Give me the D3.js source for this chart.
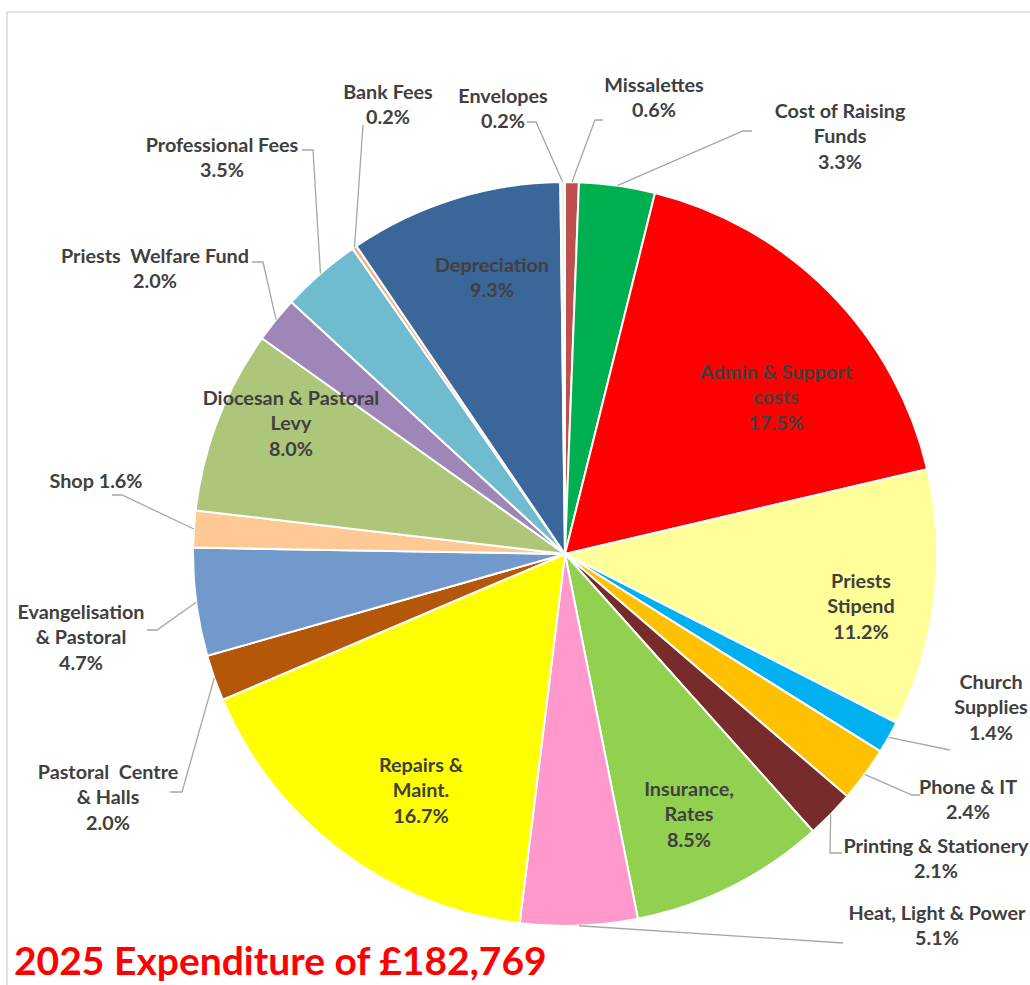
<!DOCTYPE html>
<html>
<head>
<meta charset="utf-8">
<script src="https://cdn.jsdelivr.net/npm/d3@7"></script>
<style>
  body { margin: 0; background: #fff; }
  text { font-family: Lato, "Open Sans", sans-serif; font-weight: bold; }
</style>
</head>
<body>
<div id="pie"></div>
<script>
// categories and shares (percent), clockwise from 12 o'clock
const categories = ["Missalettes", "Cost of Raising Funds", "Admin & Support costs", "Priests Stipend",
  "Church Supplies", "Phone & IT", "Printing & Stationery", "Insurance, Rates", "Heat, Light & Power",
  "Repairs & Maint.", "Pastoral Centre & Halls", "Evangelisation & Pastoral", "Shop",
  "Diocesan & Pastoral Levy", "Priests Welfare Fund", "Professional Fees", "Bank Fees",
  "Depreciation", "Envelopes"];
const shares = [0.6, 3.3, 17.5, 11.2, 1.4, 2.4, 2.1, 8.5, 5.1, 16.7, 2.0, 4.7, 1.6, 8.0, 2.0, 3.5, 0.2, 9.3, 0.2];
const title = "2025 Expenditure of £182,769";

// slice colours
const palette = ["#C0504D", "#00B050", "#FF0000", "#FFFF99", "#00B0F0", "#FFC000", "#772B2B", "#92D050",
  "#FF99CC", "#FFFF00", "#B45709", "#7299CB", "#FFC996", "#ADC67A", "#9E86B9", "#6FBCD0", "#F4B183",
  "#3A6699", "#F2F2F2"];

// label placement (hand placed like the original): text lines, centre of first line, leader points
const labelLayout = {
  "Missalettes": {x: 654, y: 85, lines: ["Missalettes", "0.6%"], leader: [[595, 120], [603, 120]]},
  "Cost of Raising Funds": {x: 840, y: 111, lines: ["Cost of Raising", "Funds", "3.3%"], leader: [[743, 131], [752, 131]]},
  "Admin & Support costs": {x: 776, y: 372, lines: ["Admin & Support", "costs", "17.5%"]},
  "Priests Stipend": {x: 861, y: 581, lines: ["Priests", "Stipend", "11.2%"]},
  "Church Supplies": {x: 991, y: 682, lines: ["Church", "Supplies", "1.4%"], leader: [[950, 750]]},
  "Phone & IT": {x: 968, y: 787, lines: ["Phone & IT", "2.4%"], leader: [[912, 795], [920, 795]]},
  "Printing & Stationery": {x: 936, y: 846, lines: ["Printing & Stationery", "2.1%"], leader: [[830, 853], [842, 853]]},
  "Insurance, Rates": {x: 689, y: 789, lines: ["Insurance,", "Rates", "8.5%"]},
  "Heat, Light & Power": {x: 937, y: 913, lines: ["Heat, Light & Power", "5.1%"], leader: [[843, 943]]},
  "Repairs & Maint.": {x: 421, y: 765, lines: ["Repairs &", "Maint.", "16.7%"]},
  "Pastoral Centre & Halls": {x: 108, y: 772, lines: ["Pastoral  Centre", "& Halls", "2.0%"], leader: [[182, 792], [170, 792]]},
  "Evangelisation & Pastoral": {x: 81, y: 612, lines: ["Evangelisation", "& Pastoral", "4.7%"], leader: [[157, 630], [147, 630]]},
  "Shop": {x: 96, y: 481, lines: ["Shop 1.6%"], leader: [[122, 495], [112, 495]]},
  "Diocesan & Pastoral Levy": {x: 291, y: 398, lines: ["Diocesan & Pastoral", "Levy", "8.0%"]},
  "Priests Welfare Fund": {x: 155, y: 256, lines: ["Priests  Welfare Fund", "2.0%"], leader: [[263, 262], [252, 262]]},
  "Professional Fees": {x: 222, y: 145, lines: ["Professional Fees", "3.5%"], leader: [[313, 150], [302, 150]]},
  "Bank Fees": {x: 388, y: 92, lines: ["Bank Fees", "0.2%"], leader: [[363, 125]]},
  "Depreciation": {x: 492, y: 265, lines: ["Depreciation", "9.3%"]},
  "Envelopes": {x: 503, y: 96, lines: ["Envelopes", "0.2%"], leader: [[536, 122], [527, 122]]}
};

const width = 1030, height = 985;
const cx = 565, cy = 554, radius = 372;
const lineH = 25.5;

const svg = d3.select("#pie")
  .append("svg")
    .attr("width", width)
    .attr("height", height);

// chart area frame
svg.append("path")
  .attr("d", "M7," + height + "V12H" + width)
  .attr("fill", "none")
  .attr("stroke", "#D9D9D9")
  .attr("stroke-width", 1.5);

let data = categories.map((c, i) => ({name: c, value: shares[i], color: palette[i]}));

let pie = d3.pie()
  .sort(null)
  .value(d => d.value)
  .startAngle(0)
  .endAngle(2 * Math.PI);

let arc = d3.arc().innerRadius(0).outerRadius(radius);
let edge = d3.arc().innerRadius(radius).outerRadius(radius);

let arcs = pie(data);

let g = svg.append("g")
  .attr("transform", "translate(" + cx + "," + cy + ")");

// slices
g.selectAll("path.slice")
  .data(arcs)
  .enter().append("path")
    .attr("class", "slice")
    .attr("d", arc)
    .attr("fill", d => d.data.color)
    .attr("stroke", "#fff")
    .attr("stroke-width", 2)
    .attr("stroke-linejoin", "round");

// leader lines: from the slice edge at its mid angle to the label
svg.append("g")
  .selectAll("polyline")
  .data(arcs.filter(d => labelLayout[d.data.name].leader))
  .enter().append("polyline")
    .attr("points", function(d) {
      let p = edge.centroid(d);
      let pts = [[p[0] + cx, p[1] + cy]].concat(labelLayout[d.data.name].leader);
      return pts.map(q => q.join(",")).join(" ");
    })
    .attr("fill", "none")
    .attr("stroke", "#A6A6A6")
    .attr("stroke-width", 1.3);

// labels
let labels = svg.append("g")
  .selectAll("text")
  .data(arcs)
  .enter().append("text")
    .attr("text-anchor", "middle")
    .attr("fill", "#404040")
    .style("font-size", "19.8px")
    .style("white-space", "pre");

labels.each(function(d) {
  let L = labelLayout[d.data.name];
  d3.select(this).selectAll("tspan")
    .data(L.lines)
    .enter().append("tspan")
      .attr("x", L.x)
      .attr("y", (t, i) => L.y + i * lineH)
      .attr("dy", "0.35em")
      .text(t => t);
});

// title
svg.append("text")
  .attr("x", 14)
  .attr("y", 975)
  .attr("fill", "#FF0000")
  .style("font-size", "39px")
  .text(title);
</script>
</body>
</html>
